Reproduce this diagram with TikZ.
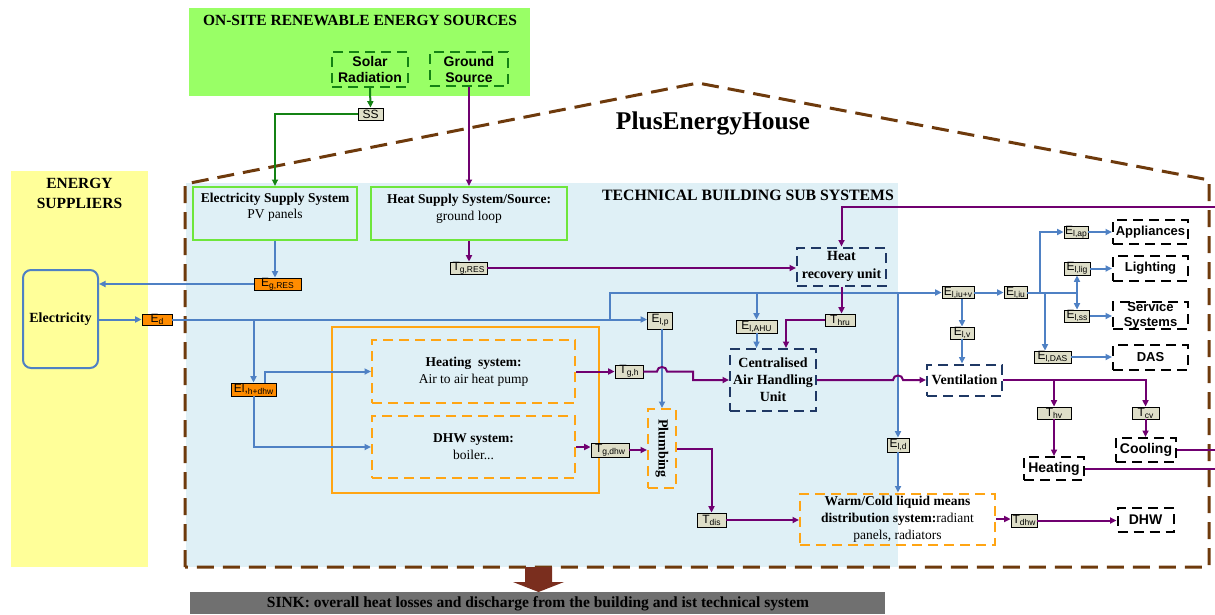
\documentclass[tikz,border=0pt]{standalone}
\usepackage{fontspec}
\setmainfont{Liberation Serif}
\newfontfamily\arialfont{Liberation Sans}
\usetikzlibrary{arrows.meta}

\definecolor{housebrown}{RGB}{110,58,12}
\definecolor{flowblue}{RGB}{79,129,196}
\definecolor{flowpurple}{RGB}{112,0,112}
\definecolor{srcgreen}{RGB}{20,130,20}
\definecolor{lightgreen}{RGB}{153,255,102}
\definecolor{boxgreen}{RGB}{110,230,60}
\definecolor{suppyellow}{RGB}{255,255,153}
\definecolor{techblue}{RGB}{223,240,246}
\definecolor{tagbeige}{RGB}{222,222,200}
\definecolor{tagorange}{RGB}{255,140,0}
\definecolor{dashorange}{RGB}{255,165,20}
\definecolor{navyline}{RGB}{31,56,100}
\definecolor{sinkgray}{RGB}{112,112,112}
\definecolor{sinkred}{RGB}{122,46,30}

\newcommand\fs[2]{\fontsize{#1}{#2}\selectfont}
\newcommand\tsub[1]{\raisebox{-0.3ex}{\fontsize{8.5}{8.5}\selectfont #1}}

\tikzset{
  sz/.style 2 args={minimum width=#1, minimum height=#2},
  tagbase/.style={draw=black, line width=0.8pt, inner sep=0pt, font=\arialfont\fs{12}{12}},
  vtag/.style={tagbase, fill=tagbeige},
  otag/.style={tagbase, fill=tagorange},
  dashbox/.style={line width=2pt, dash pattern=on 10pt off 6pt, inner sep=0pt, align=center},
  gdash/.style={dashbox, draw=srcgreen, font=\arialfont\bfseries\fs{14}{16}},
  odash/.style={dashbox, draw=dashorange, font=\fs{13.5}{17}},
  ndash/.style={dashbox, draw=navyline, font=\bfseries\fs{14}{17}},
  kdash/.style={dashbox, draw=black, font=\arialfont\bfseries\fs{13}{15}},
  gbox/.style={draw=boxgreen, line width=2pt, inner sep=0pt},
  tip/.style={-{Triangle[length=6.5pt,width=6pt]}},
  bl/.style={draw=flowblue, line width=2pt},
  pu/.style={draw=flowpurple, line width=2pt},
  gr/.style={draw=srcgreen, line width=2pt},
  house/.style={draw=housebrown, line width=3pt, dash pattern=on 17pt off 9pt},
  title/.style={font=\bfseries\fs{15.5}{20}, align=center, inner sep=0pt},
}

\begin{document}
\begin{tikzpicture}[x=1pt,y=-1pt]
\useasboundingbox (0,0) rectangle (1215,614);

% background areas
\fill[suppyellow] (11,171) rectangle (148,567);
\fill[lightgreen] (189,8) rectangle (530,96);
\fill[techblue] (186,183) rectangle (898,567);
\fill[sinkgray] (190,592) rectangle (885,614);

% house outline
\draw[house] (185,567) -- (185,184) -- (698,83) -- (1209,180) -- (1209,567) -- cycle;

% headings
\node[title] (tRes) at (360,20) {ON-SITE RENEWABLE ENERGY SOURCES};
\node[title] (tSup) at (79.5,193) {ENERGY\\SUPPLIERS};
\node[font=\bfseries\fs{25.5}{25.5}, inner sep=0pt] (tHouse) at (713,123) {PlusEnergyHouse};
\node[title, font=\bfseries\fs{15.8}{15.8}] (tTech) at (748,195) {TECHNICAL BUILDING SUB SYSTEMS};
\node[font=\bfseries\fs{15.5}{15.5}, inner sep=0pt] (tSink) at (538,604) {SINK: overall heat losses and discharge from the building and ist technical system};

% flow into the sink
\fill[sinkred] (525,567) -- (552,567) -- (552,582) -- (564,582) -- (538.5,592) -- (513,582) -- (525,582) -- cycle;

% renewable sources
\node[gdash, sz={76}{35}] (solar) at (370,69.5) {Solar\\Radiation};
\node[gdash, sz={78}{34}] (ground) at (469,69) {Ground\\Source};

% supply systems
\node[gbox, sz={164}{53}] (ess) at (275,213.5) {};
\node[font=\fs{13.5}{16}, align=center, inner sep=0pt] (essT) at (275,207) {\textbf{Electricity Supply System}\\PV panels};
\node[gbox, sz={196}{53}] (hss) at (469,213.5) {};
\node[font=\fs{13.5}{17}, align=center, inner sep=0pt] (hssT) at (469,208.5) {\textbf{Heat Supply System/Source:}\\ground loop};

% energy supplier
\node[draw=flowblue, line width=2pt, rounded corners=8pt, sz={75}{98}, font=\bfseries\fs{14}{14}] (elec) at (60.5,319) {Electricity};

% generation subsystems
\node[draw=dashorange, line width=2pt, sz={267}{166}] (genBox) at (465.5,410) {};
\node[odash, sz={203}{63}] (heatSys) at (473.5,371.5) {\textbf{Heating\ \ system:}\\Air to air heat pump};
\node[odash, sz={203}{62}] (dhwSys) at (473.5,447) {\textbf{DHW system:}\\boiler...};
\node[odash, sz={28}{79}] (plumb) at (662,448.5) {};
\node[font=\bfseries\fs{14}{14}, rotate=-90, inner sep=0pt] (plumbT) at (662,448.5) {Plumbing};
\node[odash, sz={195}{51}] (wc) at (897.5,519) {\textbf{Warm/Cold liquid means}\\\textbf{distribution system:}radiant\\panels, radiators};

% air handling
\node[ndash, sz={89}{38}, font=\bfseries\fs{14}{18}] (hru) at (841.5,266.5) {Heat\\recovery unit};
\node[ndash, sz={86}{62}] (ahu) at (773,380) {Centralised\\Air Handling\\Unit};
\node[ndash, sz={75}{31}] (vent) at (964.5,380) {Ventilation};

% end uses
\node[kdash, sz={75}{24}] (app) at (1150.5,232) {Appliances};
\node[kdash, sz={75}{25}] (light) at (1150.5,268.5) {Lighting};
\node[kdash, sz={75}{27}] (svc) at (1150.5,315.5) {Service\\Systems};
\node[kdash, sz={75}{25}] (das) at (1150.5,357.5) {DAS};
\node[kdash, sz={60}{23}, font=\arialfont\bfseries\fs{14}{14}] (heatEnd) at (1054,468.5) {Heating};
\node[kdash, sz={60}{24}, font=\arialfont\bfseries\fs{14}{14}] (coolEnd) at (1146,450) {Cooling};
\node[kdash, sz={56}{24}, font=\arialfont\bfseries\fs{14}{14}] (dhwEnd) at (1145.5,520) {DHW};

% junction points
\coordinate (bA) at (610,319.5);
\coordinate (bC) at (756.5,292.5);
\coordinate (bD) at (898,292.5);
\coordinate (jH) at (253.5,319.5);
\coordinate (c1) at (1040,292.5);
\coordinate (c2) at (1045,292.5);
\coordinate (c3) at (1077,292.5);
\coordinate (hopA) at (662,371.5);
\coordinate (k1) at (693,371.5);
\coordinate (hopB) at (898,380);
\coordinate (v1) at (1054,380);
\coordinate (retTop) at (1215,207);
\coordinate (outC) at (1215,449);
\coordinate (outH) at (1215,468.5);

% tags
\node[vtag, sz={25}{12}] (ss) at (370.5,114) {SS};
\node[otag, sz={47}{12}] (egres) at (277.5,284) {E\tsub{g,RES}};
\node[otag, sz={30}{11}] (ed) at (157,319.5) {E\tsub{d}};
\node[vtag, sz={37}{12}] (tgres) at (468.5,268) {T\tsub{g,RES}};
\node[otag, sz={45}{13}] (elhd) at (253.5,389.5) {El,\tsub{h+dhw}};
\node[vtag, sz={25}{17}] (elp) at (660,320.5) {E\tsub{l,p}};
\node[vtag, sz={41}{13}] (elahu) at (756.5,326.5) {E\tsub{l,AHU}};
\node[vtag, sz={30}{12}] (thru) at (840,320) {T\tsub{hru}};
\node[vtag, sz={28}{13}] (tgh) at (629,371.5) {T\tsub{g,h}};
\node[vtag, sz={38}{14}] (tgdhw) at (610,450) {T\tsub{g,dhw}};
\node[vtag, sz={29}{14}] (tdis) at (711.5,520) {T\tsub{dis}};
\node[vtag, sz={22}{14}] (eld) at (898,445) {E\tsub{l,d}};
\node[vtag, sz={32}{11}] (eliuv) at (958,292.5) {E\tsub{l,iu+v}};
\node[vtag, sz={23}{11}] (eliu) at (1015.5,292.5) {E\tsub{l,iu}};
\node[vtag, sz={24}{12}] (elv) at (962,333) {E\tsub{l,v}};
\node[vtag, sz={24}{11}] (elap) at (1076,232) {E\tsub{l,ap}};
\node[vtag, sz={26}{13}] (ellig) at (1077,268.5) {E\tsub{l,lig}};
\node[vtag, sz={25}{12}] (elss) at (1077,316) {E\tsub{l,ss}};
\node[vtag, sz={37}{12}] (eldas) at (1052.5,357) {E\tsub{l,DAS}};
\node[vtag, sz={34}{12}] (thv) at (1054,413) {T\tsub{hv}};
\node[vtag, sz={27}{12}] (tcv) at (1145.5,413) {T\tsub{cv}};
\node[vtag, sz={26}{13}] (tdhw) at (1024,520.5) {T\tsub{dhw}};

% renewable flows
\draw[gr, tip] (solar.south) -- (ss.north);
\draw[gr, tip] (ss.west) -| (ess.north);
\draw[pu, tip] (ground.south) -- (hss.north);

% electricity flows
\draw[bl, tip] (ess.south) -- (ess.south |- egres.north);
\draw[bl, tip] (egres.west) -- (egres.west -| elec.east);
\draw[bl, tip] (elec.east |- ed.west) -- (ed.west);
\draw[bl, tip] (ed.east) -- (ed.east -| elp.west);
\draw[bl, tip] (jH) -- (elhd.north);
\draw[bl, tip] ([xshift=11pt]elhd.north) |- (heatSys.west);
\draw[bl, tip] (elhd.south) |- (dhwSys.west);
\draw[bl, tip] (plumb.north |- elp.south) -- (plumb.north);
\draw[bl, tip] (bA) |- (eliuv.west);
\draw[bl, tip] (bC) -- (elahu.north);
\draw[bl, tip] (elahu.south) -- (elahu.south |- ahu.north);
\draw[bl, tip] (bD) -- (eld.north);
\draw[bl, tip] (eld.south) -- (eld.south |- wc.north);
\draw[bl, tip] (eliuv.east) -- (eliu.west);
\draw[bl, tip] (elv.north |- eliuv.south) -- (elv.north);
\draw[bl, tip] (elv.south) -- (elv.south |- vent.north);
\draw[bl] (eliu.east) -- (c3);
\draw[bl, tip] (c1) |- (elap.west);
\draw[bl, tip] (c2) -- (c2 |- eldas.north);
\draw[bl, tip] (c3) -- (ellig.south);
\draw[bl, tip] (c3) -- (elss.north);
\draw[bl, tip] (elap.east) -- (elap.east -| app.west);
\draw[bl, tip] (ellig.east) -- (ellig.east -| light.west);
\draw[bl, tip] (elss.east) -- (elss.east -| svc.west);
\draw[bl, tip] (eldas.east) -- (eldas.east -| das.west);

% heat flows
\draw[pu, tip] (hss.south) -- (hss.south |- tgres.north);
\draw[pu, tip] (tgres.east) -- (tgres.east -| hru.west);
\draw[pu, tip] (retTop) -| (hru.north);
\draw[pu, tip] (hru.south) -- (hru.south |- thru.north);
\draw[pu, tip] (thru.west) -| ([xshift=13pt]ahu.north);
\draw[pu, tip] (heatSys.east) -- (heatSys.east -| tgh.west);
\draw[pu, tip] (tgh.east) -- ([xshift=-5pt]hopA)
  .. controls ([xshift=-5pt,yshift=6pt]hopA) and ([xshift=5pt,yshift=6pt]hopA) .. ([xshift=5pt]hopA)
  -- (k1) |- (ahu.west);
\draw[pu, tip] (dhwSys.east) -- (dhwSys.east -| tgdhw.west);
\draw[pu, tip] (tgdhw.east) -- (tgdhw.east -| plumb.west);
\draw[pu, tip] (plumb.east) -| (tdis.north);
\draw[pu, tip] (tdis.east) -- (tdis.east -| wc.west);
\draw[pu, tip] (wc.east) -- (wc.east -| tdhw.west);
\draw[pu, tip] (tdhw.east) -- (tdhw.east -| dhwEnd.west);
\draw[pu, tip] (ahu.east) -- ([xshift=-5pt]hopB)
  .. controls ([xshift=-5pt,yshift=6pt]hopB) and ([xshift=5pt,yshift=6pt]hopB) .. ([xshift=5pt]hopB)
  -- (vent.west);
\draw[pu, tip] (vent.east) -| (tcv.north);
\draw[pu, tip] (v1) -- (thv.north);
\draw[pu, tip] (thv.south) -- (thv.south |- heatEnd.north);
\draw[pu, tip] (tcv.south) -- (tcv.south |- coolEnd.north);
\draw[pu] (coolEnd.east) -- (coolEnd.east -| outC);
\draw[pu] (heatEnd.east) -- (heatEnd.east -| outH);
\end{tikzpicture}
\end{document}
